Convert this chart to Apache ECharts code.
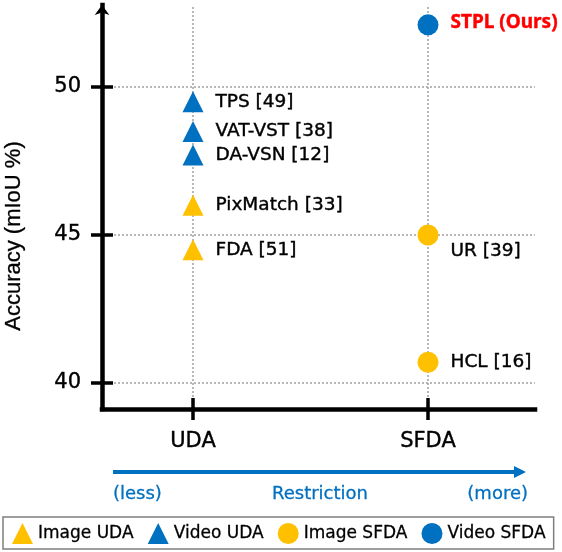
<!DOCTYPE html>
<html>
<head>
<meta charset="utf-8">
<script src="https://cdn.jsdelivr.net/npm/echarts@6/dist/echarts.min.js"></script>
<style>
  html, body { margin: 0; padding: 0; background: #fff; }
  #chart { width: 562px; height: 552px; }
</style>
</head>
<body>
<div id="chart"></div>
<script>
// ---- data ----
const categories = ['UDA', 'SFDA'];
const yTickValues = [40, 45, 50];

const imageUdaNames = ['PixMatch [33]', 'FDA [51]'];
const imageUdaValues = [46.0, 44.5];

const videoUdaNames = ['TPS [49]', 'VAT-VST [38]', 'DA-VSN [12]'];
const videoUdaValues = [49.5, 48.5, 47.7];

const imageSfdaNames = ['UR [39]', 'HCL [16]'];
const imageSfdaValues = [45.0, 40.7];

const videoSfdaNames = ['STPL (Ours)'];
const videoSfdaValues = [52.1];

const restrictionTexts = ['(less)', 'Restriction', '(more)'];
const yAxisTitle = 'Accuracy (mIoU %)';

// ---- styles ----
const YELLOW = '#FFC000';
const BLUE = '#0070C0';
const GRID_GRAY = '#A6A6A6';
const LABEL_FONT = 'DejaVu Sans';
const AXIS_FONT = 'DejaVu Sans';

const xMin = 0.6128, xMax = 2.4553;
const yMin = 39.12, yMax = 52.77;

function catX(c) { return categories.indexOf(c) + 1; }

function buildData(cat, names, values) {
  return names.map((n, i) => ({ name: n, value: [catX(cat), values[i]] }));
}

const baseLabel = {
  show: true,
  position: 'right',
  distance: 12,
  formatter: p => p.name,
  fontFamily: LABEL_FONT,
  fontSize: 18.5,
  color: '#000',
  textBorderColor: '#000',
  textBorderWidth: 0.4
};

function applyLabelTweaks(data) {
  return data.map(d => {
    if (d.name === 'UR [39]') {
      d.label = { offset: [0, 16] };
    }
    if (d.name === 'STPL (Ours)') {
      d.label = { color: '#FF0000', textBorderColor: '#FF0000', fontWeight: 'bold', fontFamily: 'Noto Sans', fontSize: 19, offset: [0, -2] };
    }
    return d;
  });
}

const chart = echarts.init(document.getElementById('chart'), null, { renderer: 'canvas' });

const gridLineStyle = { color: GRID_GRAY, type: [2, 2], width: 1.6 };
const tickStyle = { color: '#000', width: 3.5 };
const axisTextBold = { textBorderColor: '#000', textBorderWidth: 0.4 };

const option = {
  animation: false,
  grid: { left: 102, right: 27, top: 5, bottom: 143, containLabel: false },
  xAxis: [
    {
      type: 'value', min: xMin, max: xMax, z: 2,
      axisLine: { show: true, onZero: false, lineStyle: { color: '#000', width: 4.5, cap: 'square' } },
      axisTick: { show: true, customValues: [1, 2], length: 11, lineStyle: tickStyle },
      axisLabel: Object.assign({
        show: true, customValues: [1, 2], margin: 22,
        formatter: v => categories[Math.round(v) - 1] || '',
        fontFamily: AXIS_FONT, fontSize: 21, color: '#000'
      }, axisTextBold),
      splitLine: { show: false }
    },
    {
      type: 'value', min: xMin, max: xMax, position: 'bottom', z: 2,
      axisLine: { show: false },
      axisTick: { show: true, inside: true, customValues: [1, 2], length: 11, lineStyle: tickStyle },
      axisLabel: { show: false },
      splitLine: { show: false }
    }
  ],
  yAxis: [
    {
      type: 'value', min: yMin, max: yMax, z: 2,
      axisLine: { show: true, onZero: false, symbol: ['none', 'arrow'], symbolSize: [11, 10], lineStyle: { color: '#000', width: 4.5, cap: 'square' } },
      axisTick: { show: true, customValues: yTickValues, length: 11, lineStyle: tickStyle },
      axisLabel: Object.assign({ show: true, customValues: yTickValues, margin: 21, fontFamily: AXIS_FONT, fontSize: 21, color: '#000' }, axisTextBold),
      splitLine: { show: false }
    },
    {
      type: 'value', min: yMin, max: yMax, position: 'left', z: 2,
      axisLine: { show: false },
      axisTick: { show: true, inside: true, customValues: yTickValues, length: 11, lineStyle: tickStyle },
      axisLabel: { show: false },
      splitLine: { show: false }
    }
  ],
  legend: {
    data: [
      { name: 'Image UDA', icon: 'triangle' },
      { name: 'Video UDA', icon: 'triangle' },
      { name: 'Image SFDA', icon: 'circle' },
      { name: 'Video SFDA', icon: 'circle' }
    ],
    left: 3, top: 517,
    padding: [6, 8, 5, 9],
    itemWidth: 21, itemHeight: 21, itemGap: 14,
    borderColor: '#7F7F7F', borderWidth: 1.5, borderRadius: 0,
    textStyle: { fontFamily: AXIS_FONT, fontSize: 17, color: '#000', textBorderColor: '#000', textBorderWidth: 0.3 }
  },
  series: [
    {
      name: 'Image UDA', type: 'scatter', symbol: 'triangle', symbolSize: 21, z: 3,
      itemStyle: { color: YELLOW, opacity: 1 },
      label: baseLabel,
      data: applyLabelTweaks(buildData('UDA', imageUdaNames, imageUdaValues)),
      markLine: {
        silent: true, symbol: ['none', 'none'], z: 1,
        label: { show: false },
        lineStyle: gridLineStyle,
        emphasis: { disabled: true },
        data: yTickValues.map(v => ({ yAxis: v })).concat(categories.map(c => ({ xAxis: catX(c) })))
      }
    },
    {
      name: 'Video UDA', type: 'scatter', symbol: 'triangle', symbolSize: 21, z: 3,
      itemStyle: { color: BLUE, opacity: 1 },
      label: baseLabel,
      data: applyLabelTweaks(buildData('UDA', videoUdaNames, videoUdaValues))
    },
    {
      name: 'Image SFDA', type: 'scatter', symbol: 'circle', symbolSize: 21, z: 3,
      itemStyle: { color: YELLOW, opacity: 1 },
      label: baseLabel,
      data: applyLabelTweaks(buildData('SFDA', imageSfdaNames, imageSfdaValues))
    },
    {
      name: 'Video SFDA', type: 'scatter', symbol: 'circle', symbolSize: 21, z: 3,
      itemStyle: { color: BLUE, opacity: 1 },
      label: baseLabel,
      data: applyLabelTweaks(buildData('SFDA', videoSfdaNames, videoSfdaValues))
    }
  ],
  graphic: [
    {
      type: 'text', x: 14, y: 236, rotation: Math.PI / 2,
      style: { text: yAxisTitle, fontFamily: 'Liberation Sans', fontSize: 22, fill: '#000', stroke: '#000', lineWidth: 0.3, align: 'center', verticalAlign: 'middle' }
    },
    {
      type: 'line', shape: { x1: 113, y1: 472, x2: 516, y2: 472 },
      style: { stroke: BLUE, lineWidth: 4 }
    },
    {
      type: 'polygon', shape: { points: [[514, 466], [526, 472], [514, 478]] },
      style: { fill: BLUE }
    },
    {
      type: 'text', x: 113, y: 494,
      style: { text: restrictionTexts[0], fontFamily: AXIS_FONT, fontSize: 18, fill: BLUE, stroke: BLUE, lineWidth: 0.3, align: 'left', verticalAlign: 'middle' }
    },
    {
      type: 'text', x: 320, y: 494,
      style: { text: restrictionTexts[1], fontFamily: AXIS_FONT, fontSize: 18, fill: BLUE, stroke: BLUE, lineWidth: 0.3, align: 'center', verticalAlign: 'middle' }
    },
    {
      type: 'text', x: 528, y: 494,
      style: { text: restrictionTexts[2], fontFamily: AXIS_FONT, fontSize: 18, fill: BLUE, stroke: BLUE, lineWidth: 0.3, align: 'right', verticalAlign: 'middle' }
    }
  ]
};

chart.setOption(option);
</script>
</body>
</html>
